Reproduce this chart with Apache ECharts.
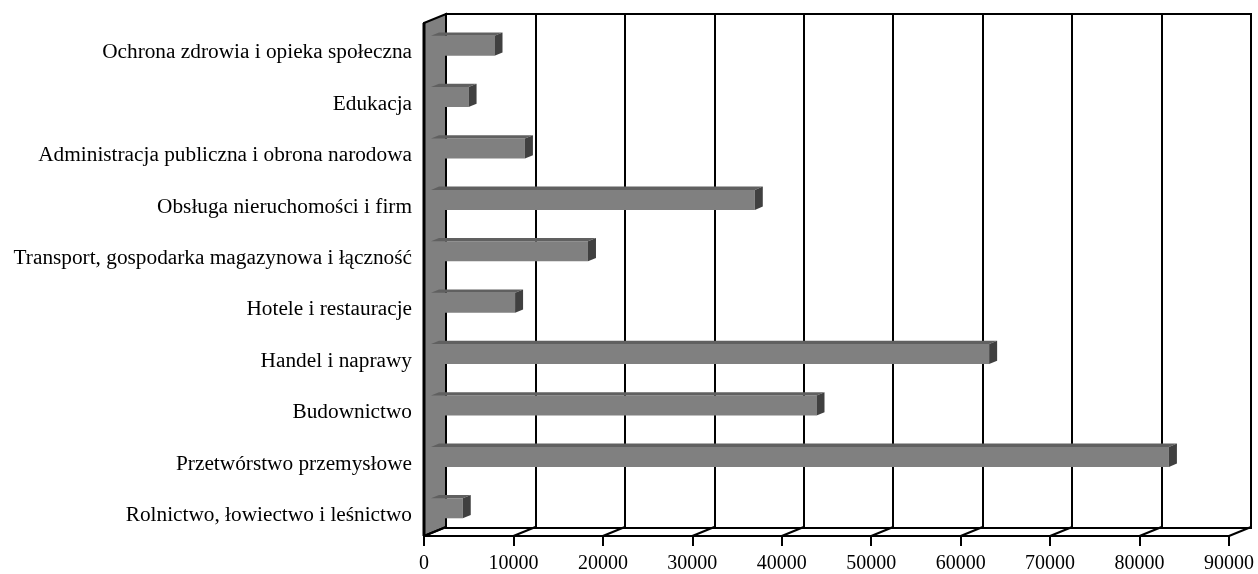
<!DOCTYPE html>
<html>
<head>
<meta charset="utf-8">
<script src="https://cdn.jsdelivr.net/npm/echarts@6/dist/echarts.min.js"></script>
<style>
  html, body { margin: 0; padding: 0; background: #fff; }
  #chart { width: 1258px; height: 574px; }
</style>
</head>
<body>
<div id="chart"></div>
<script>
// kategorie od gory do dolu
var categories = [
    'Ochrona zdrowia i opieka społeczna',
    'Edukacja',
    'Administracja publiczna i obrona narodowa',
    'Obsługa nieruchomości i firm',
    'Transport, gospodarka magazynowa i łączność',
    'Hotele i restauracje',
    'Handel i naprawy',
    'Budownictwo',
    'Przetwórstwo przemysłowe',
    'Rolnictwo, łowiectwo i leśnictwo'
];
var values = [7100, 4200, 10500, 36200, 17550, 9400, 62400, 43100, 82500, 3550];
var ticks = [0, 10000, 20000, 30000, 40000, 50000, 60000, 70000, 80000, 90000];

var font = "'Liberation Serif', 'Times New Roman', serif";
var wallDx = 22, wallDy = -9;   // glebokosc sciany
var barDx = 8, barDy = -3.3;    // glebokosc slupka

var chart = echarts.init(document.getElementById('chart'));

// plaszczyzna tylna + sciana + podloga
var renderFrame = function (params, api) {
    var cs = params.coordSys;
    var v = api.value(0);
    var x = api.coord([v, 0])[0];
    var yb = cs.y + cs.height;
    var children = [{
        type: 'line',
        shape: { x1: x, y1: yb, x2: x + wallDx, y2: yb + wallDy },
        style: { stroke: '#000', lineWidth: 2 }
    }];
    if (params.dataIndex === 0) {
        children.unshift({
            type: 'polygon',
            shape: { points: [[x, cs.y], [x + wallDx, cs.y + wallDy], [x + wallDx, yb + wallDy], [x, yb]] },
            style: { fill: '#808080', stroke: '#000', lineWidth: 2 }
        });
        children.push({
            type: 'line',
            shape: { x1: x, y1: cs.y, x2: x, y2: yb },
            style: { stroke: '#000', lineWidth: 3 }
        });
    }
    return { type: 'group', children: children };
};

// gorna i boczna sciana slupka
var renderCap = function (params, api) {
    var idx = api.value(1);
    var end = api.coord([api.value(0), idx]);
    var start = api.coord([0, idx]);
    var h = 20;
    var top = end[1] - h / 2, bot = end[1] + h / 2;
    return {
        type: 'group',
        children: [{
            type: 'polygon',
            shape: { points: [[start[0], top], [end[0], top], [end[0] + barDx, top + barDy], [start[0] + barDx, top + barDy]] },
            style: { fill: '#606060' }
        }, {
            type: 'polygon',
            shape: { points: [[end[0], top], [end[0], bot], [end[0] + barDx, bot + barDy], [end[0] + barDx, top + barDy]] },
            style: { fill: '#404040' }
        }]
    };
};

option = {
    animation: false,
    backgroundColor: '#fff',
    grid: [
        { left: 446, right: 7, top: 14, bottom: 46, show: true, borderColor: '#000', borderWidth: 2, backgroundColor: 'transparent' },
        { left: 424, right: 29, top: 23, bottom: 37 },
        { left: 431, right: 22, top: 20, bottom: 40 },
        { left: 424, right: 29, top: 27, bottom: 33 }
    ],
    xAxis: [{
        gridIndex: 0, type: 'value', min: 0, max: 90000, interval: 10000,
        axisLine: { show: false }, axisTick: { show: false }, axisLabel: { show: false },
        splitLine: { show: true, lineStyle: { color: '#000', width: 2 } }
    }, {
        gridIndex: 1, type: 'value', min: 0, max: 90000, interval: 10000,
        axisLine: { show: true, lineStyle: { color: '#000', width: 2 } },
        axisTick: { show: true, length: 10, lineStyle: { color: '#000', width: 2 } },
        axisLabel: {
            color: '#000', fontFamily: font, fontSize: 20, margin: 18,
            formatter: function (v) { return String(v); }
        },
        splitLine: { show: false }
    }, {
        gridIndex: 2, type: 'value', min: 0, max: 90000, show: false
    }, {
        gridIndex: 3, type: 'value', min: 0, max: 90000, show: false
    }],
    yAxis: [{
        gridIndex: 0, type: 'value', show: false, splitLine: { show: false }
    }, {
        gridIndex: 1, type: 'category', data: categories, inverse: true, show: false
    }, {
        gridIndex: 2, type: 'category', data: categories, inverse: true, show: false
    }, {
        gridIndex: 3, type: 'category', data: categories, inverse: true,
        axisLine: { show: false }, axisTick: { show: false },
        axisLabel: { color: '#000', fontFamily: font, fontSize: 21.3, margin: 12 }
    }],
    series: [{
        type: 'custom',
        xAxisIndex: 1, yAxisIndex: 1,
        renderItem: renderFrame,
        data: ticks.map(function (t) { return [t]; }),
        z: 1,
        silent: true
    }, {
        type: 'bar',
        xAxisIndex: 2, yAxisIndex: 2,
        barWidth: 20,
        itemStyle: { color: '#808080' },
        data: values,
        z: 3
    }, {
        type: 'custom',
        xAxisIndex: 2, yAxisIndex: 2,
        renderItem: renderCap,
        data: values.map(function (v, i) { return [v, i]; }),
        z: 4,
        silent: true
    }]
};
chart.setOption(option);
</script>
</body>
</html>
